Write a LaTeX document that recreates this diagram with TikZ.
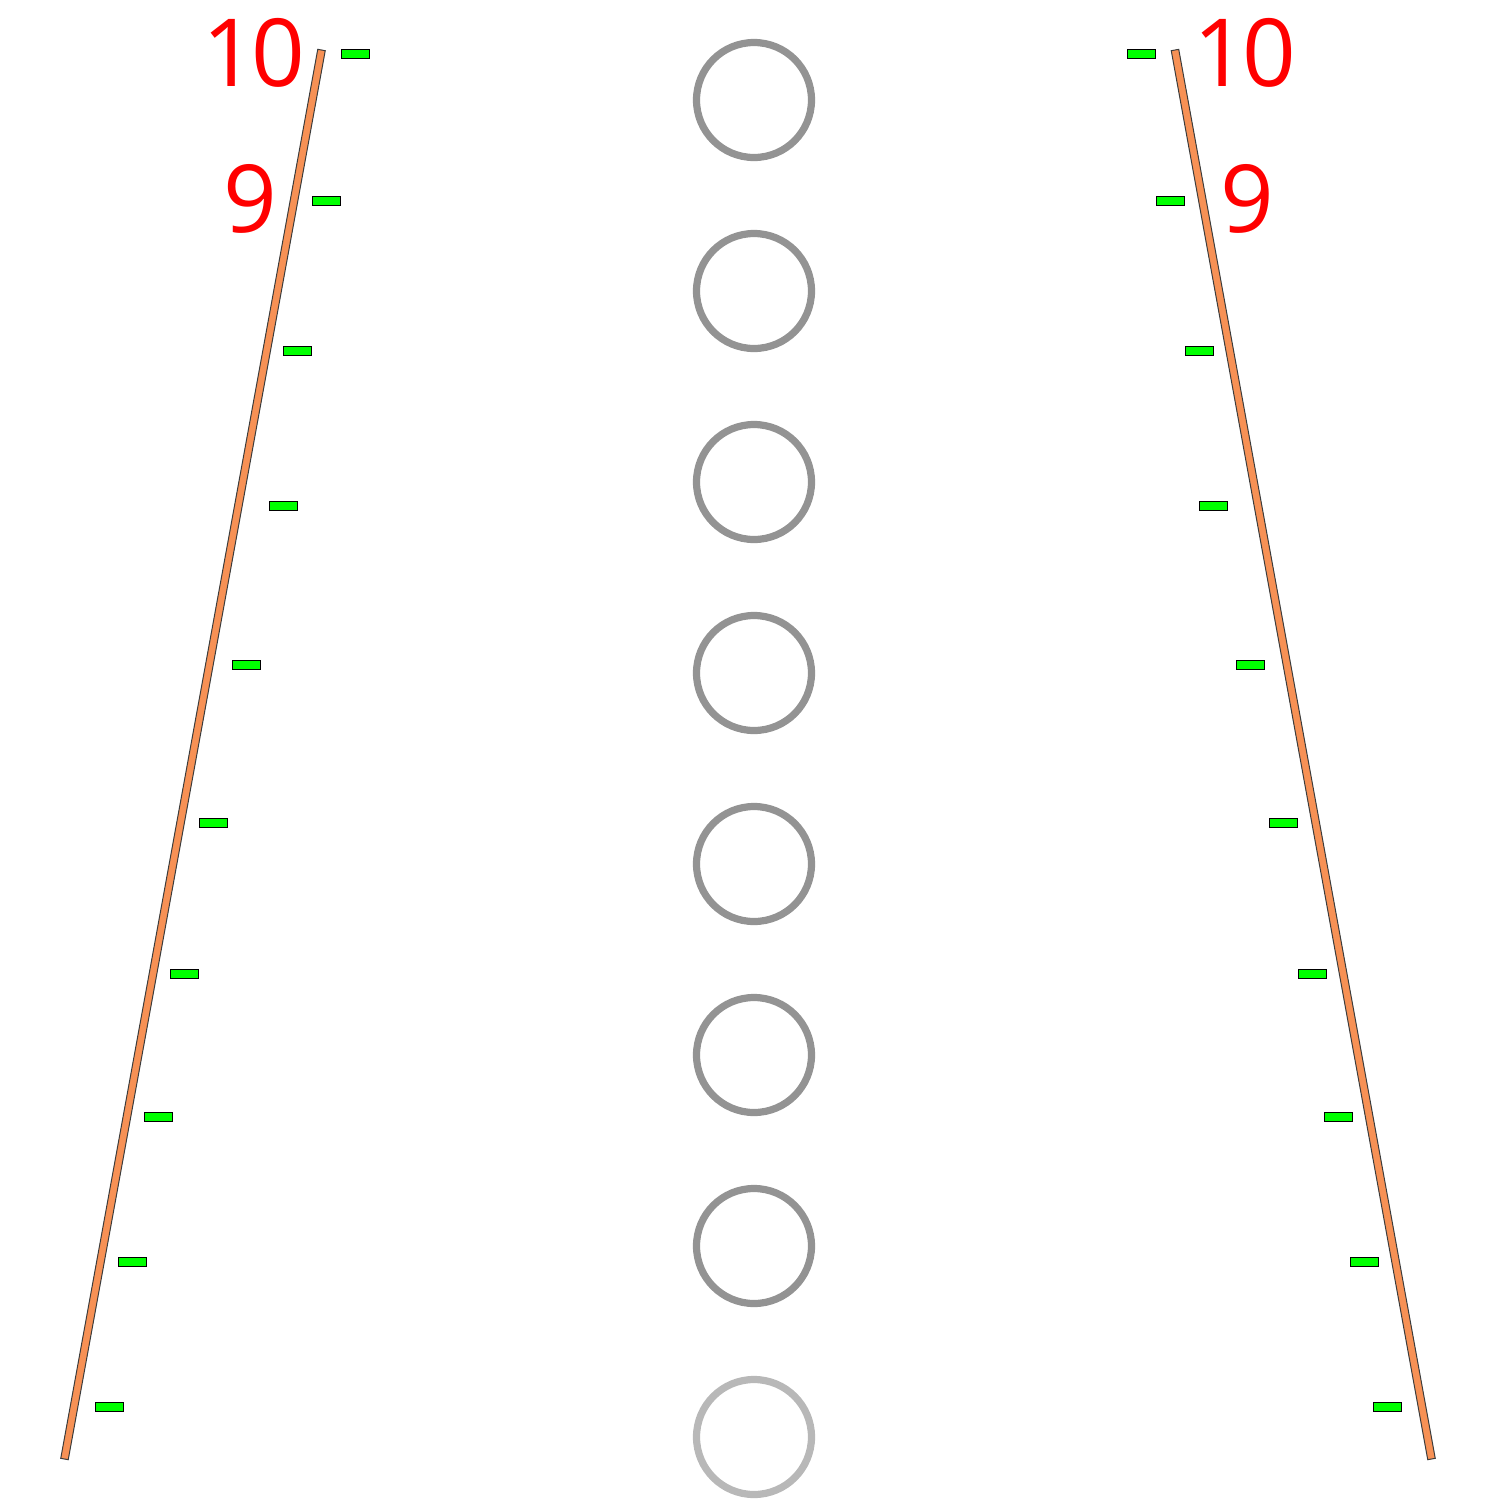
\documentclass[tikz,border=0pt]{standalone}
\usepackage{fontspec}
\setmainfont{Open Sans}
\usetikzlibrary{calc}
\definecolor{barfill}{RGB}{247,145,85}
\definecolor{baredge}{RGB}{60,60,60}
\definecolor{tickgreen}{RGB}{0,255,0}
\definecolor{ringdark}{RGB}{147,147,147}
\definecolor{ringlight}{RGB}{184,184,184}
\definecolor{labelred}{RGB}{255,0,0}
\begin{document}
\begin{tikzpicture}[x=0.5pt,y=-0.5pt,
  tickbox/.style={rectangle,draw=black,line width=0.5pt,fill=tickgreen,minimum width=14pt,minimum height=4.5pt,inner sep=0pt},
  ring/.style={circle,draw=ringdark,line width=3.6pt,minimum size=57.5pt,inner sep=0pt},
  ringfaint/.style={ring,draw=ringlight},
  barstyle/.style={fill=barfill,draw=baredge,line width=0.5pt},
  numlabel/.style={text=labelred,font=\fontsize{47}{50}\selectfont,inner sep=0pt,anchor=base}]
\useasboundingbox (0,0) rectangle (1504,1512);
% bars
\coordinate (lt) at (321.5,50);
\coordinate (lb) at (64.5,1459);
\coordinate (rt) at (1175,50);
\coordinate (rb) at (1431.5,1459);
\draw[barstyle] ($(lt)!1.9pt!90:(lb)$) -- ($(lt)!1.9pt!-90:(lb)$) -- ($(lb)!1.9pt!90:(lt)$) -- ($(lb)!1.9pt!-90:(lt)$) -- cycle;
\draw[barstyle] ($(rt)!1.9pt!90:(rb)$) -- ($(rt)!1.9pt!-90:(rb)$) -- ($(rb)!1.9pt!90:(rt)$) -- ($(rb)!1.9pt!-90:(rt)$) -- cycle;
% left ticks
\foreach \x/\y [count=\i] in {355/54,326/201,297/351,283/506,246/665,213/823,184/974,158/1117,132/1262,109/1407}
  \node[tickbox] (lt\i) at (\x,\y) {};
% right ticks
\foreach \x/\y [count=\i] in {1141/54,1170/201,1199/351,1213/506,1250/665,1283/823,1312/974,1338/1117,1364/1262,1387/1407}
  \node[tickbox] (rt\i) at (\x,\y) {};
% rings
\foreach \y [count=\i] in {100,291,482,673,864,1055,1246}
  \node[ring] (c\i) at (754,\y) {};
\node[ringfaint] (c8) at (754,1437) {};
% labels
\node[numlabel] (l10) at (254,86) {1\kern-2.5pt0};
\node[numlabel] (l9) at (250,232) {9};
\node[numlabel] (r10) at (1245,86) {1\kern-2.5pt0};
\node[numlabel] (r9) at (1247,232) {9};
\end{tikzpicture}
\end{document}
